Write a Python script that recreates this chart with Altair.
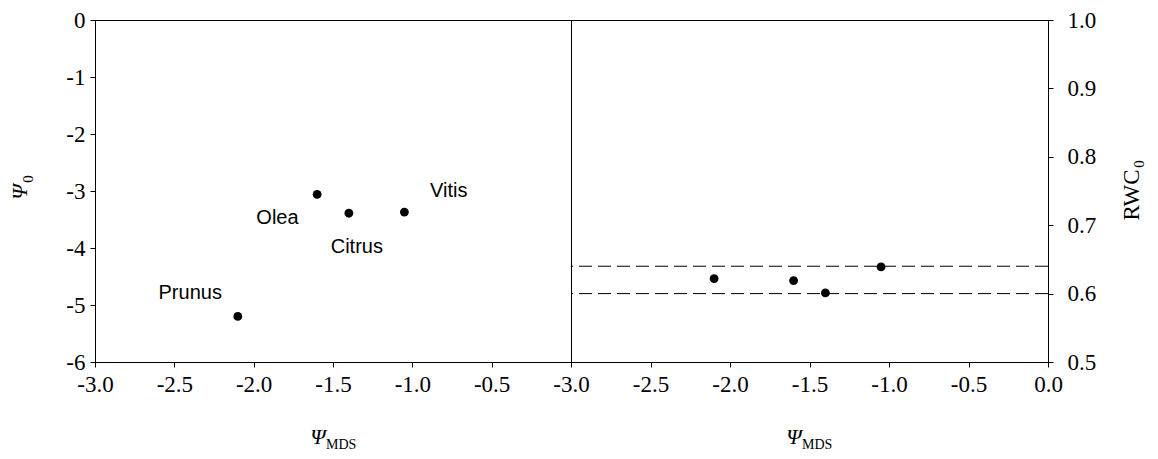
import altair as alt
import pandas as pd

# Left panel: Psi_0 vs Psi_MDS
species = ["Prunus", "Olea", "Citrus", "Vitis"]
psi_mds = [-2.10, -1.60, -1.40, -1.05]
psi_0 = [-5.20, -3.06, -3.39, -3.37]
label_x = [-2.40, -1.85, -1.35, -0.77]
label_y = [-4.79, -3.48, -3.99, -3.00]

# Right panel: RWC_0 vs Psi_MDS
rwc_0 = [0.622, 0.619, 0.601, 0.639]
ref_lines = [0.64, 0.60]

x_ticks_left = [-3.0, -2.5, -2.0, -1.5, -1.0, -0.5]
x_ticks_right = [-3.0, -2.5, -2.0, -1.5, -1.0, -0.5, 0.0]
y_ticks_left = [-6, -5, -4, -3, -2, -1, 0]
y_ticks_right = [0.5, 0.6, 0.7, 0.8, 0.9, 1.0]

W_L, W_R, H = 476, 477, 342
SERIF = "Liberation Serif"
SANS = "Liberation Sans"
LBL = 23

df = pd.DataFrame({"species": species, "psi_mds": psi_mds, "psi_0": psi_0,
                   "lx": label_x, "ly": label_y, "rwc": rwc_0})
df_lines = pd.DataFrame({"y": ref_lines})

fix_minus = "replace(datum.label, '\u2212', '-')"

common_axis = dict(labelFont=SERIF, labelFontSize=LBL, labelColor="black", title=None,
                   domainColor="black", tickColor="black", tickSize=5, grid=False,
                   labelFlush=False, labelOverlap=False)

xl = alt.X("psi_mds:Q", scale=alt.Scale(domain=[-3, 0], nice=False),
           axis=alt.Axis(values=x_ticks_left, format=".1f", labelExpr=fix_minus,
                         labelPadding=6, **common_axis))
xr = alt.X("psi_mds:Q", scale=alt.Scale(domain=[-3, 0], nice=False),
           axis=alt.Axis(values=x_ticks_right, format=".1f", labelExpr=fix_minus,
                         labelPadding=6, **common_axis))


def txt(s, x, y, size, font=SERIF, style="normal", angle=0, align="center", baseline="middle"):
    return alt.Chart(pd.DataFrame({"t": [s]})).mark_text(
        font=font, fontSize=size, fontStyle=style, angle=angle, align=align,
        baseline=baseline, color="black"
    ).encode(text="t:N", x=alt.value(x), y=alt.value(y))


left_pts = alt.Chart(df).mark_circle(size=78, color="black", opacity=1).encode(
    x=xl,
    y=alt.Y("psi_0:Q", scale=alt.Scale(domain=[-6, 0], nice=False),
            axis=alt.Axis(values=y_ticks_left, format="d", labelExpr=fix_minus,
                          labelPadding=5, **common_axis)),
)
left_lbl = alt.Chart(df).mark_text(font=SANS, fontSize=20, color="black").encode(
    x="lx:Q", y="ly:Q", text="species:N"
)

left = alt.layer(
    left_pts, left_lbl,
    txt("Ψ", 223, 417, 22, style="italic"),
    txt("MDS", 231, 425, 14, align="left"),
    txt("Ψ", -75, 172, 22, style="italic", angle=270),
    txt("0", -67, 159, 15, angle=270),
).properties(width=W_L, height=H)

right_lines = alt.Chart(df_lines).mark_rule(color="black", strokeWidth=1, strokeDash=[13, 6]).encode(
    y=alt.Y("y:Q", scale=alt.Scale(domain=[0.5, 1.0], nice=False))
)
right_pts = alt.Chart(df).mark_circle(size=78, color="black", opacity=1).encode(
    x=xr,
    y=alt.Y("rwc:Q", scale=alt.Scale(domain=[0.5, 1.0], nice=False),
            axis=alt.Axis(values=y_ticks_right, format=".1f", orient="right",
                          labelPadding=14, **common_axis)),
)
right = alt.layer(
    right_lines, right_pts,
    txt("Ψ", 223, 417, 22, style="italic"),
    txt("MDS", 231, 425, 14, align="left"),
    txt("RWC", 561, 175, 23, angle=270),
    txt("0", 568, 144, 15, angle=270),
).resolve_scale(y="shared").properties(width=W_R, height=H)

chart = alt.hconcat(left, right, spacing=0, bounds="flush").configure_view(
    stroke="black", strokeWidth=1
).properties(padding={"left": 0, "top": 0, "right": 0, "bottom": 0})

chart.save("out.html", embed_options={"renderer": "svg", "actions": False})
